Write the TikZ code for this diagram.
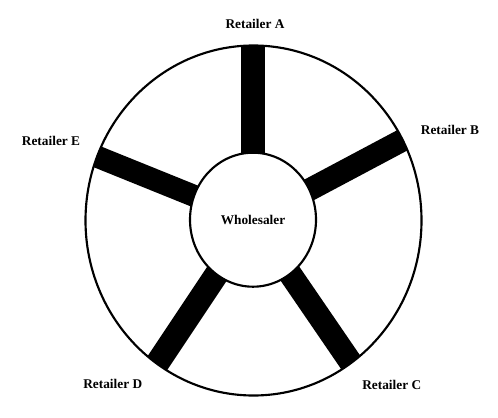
\documentclass[tikz,border=0pt]{standalone}
\usepackage{fontspec}
\setmainfont{Liberation Serif}
\usetikzlibrary{calc,shapes.geometric,backgrounds}
\begin{document}
\begin{tikzpicture}[x=0.75pt,y=-0.75pt,
  lbl/.style={font=\fontsize{10}{12}\selectfont\bfseries, inner sep=0pt},
  spoke/.style={line width=17.5pt, line cap=butt},
  ring/.style={line width=1.6pt},
  hub/.style={ellipse, draw, line width=1.6pt, fill=white, inner sep=0pt,
    minimum width=94.5pt, minimum height=100.5pt,
    font=\fontsize{10}{12}\selectfont\bfseries}]
\useasboundingbox (0,0) rectangle (498,417);
\coordinate (c) at (253.5,220.5);
\draw[ring] (c) ellipse [x radius=168, y radius=175];
\node[hub] (w) at (253,219.7) {Wholesaler};
\begin{scope}[on background layer]
\fill[white] (0,0) rectangle (498,417);
\clip (c) ellipse [x radius=168, y radius=175];
\foreach \n/\a/\lw in {a/90/18.5,b/28/17,c/-55.6/17.5,d/-123.7/18,e/158/16.5} {
  \coordinate (o\n) at ($(w.center)+({250*cos(\a)},{-250*sin(\a)})$);
  \draw[spoke, line width=\lw pt] (w.center) -- (o\n);
}
\end{scope}
\node[lbl] (ra) at (255,24) {Retailer A};
\node[lbl] (rb) at (450,129.5) {Retailer B};
\node[lbl] (rc) at (391.7,385) {Retailer C};
\node[lbl] (rd) at (112.7,383.7) {Retailer D};
\node[lbl] (re) at (51,140.7) {Retailer E};
\end{tikzpicture}
\end{document}
